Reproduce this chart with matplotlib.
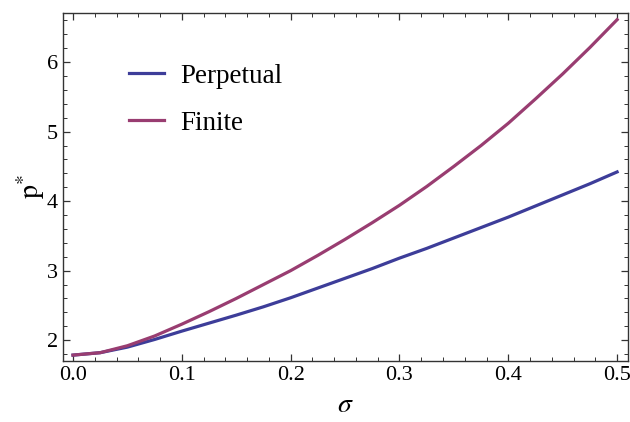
import numpy as np
import matplotlib.pyplot as plt
from matplotlib.ticker import MultipleLocator

plt.rcParams['font.family'] = ['Liberation Serif', 'DejaVu Serif']
plt.rcParams['mathtext.fontset'] = 'stix'

# values
sigma = [0.0, 0.025, 0.05, 0.075, 0.1, 0.125, 0.15, 0.175, 0.2, 0.225, 0.25,
         0.275, 0.3, 0.325, 0.35, 0.375, 0.4, 0.425, 0.45, 0.475, 0.5]
perpetual = [1.785, 1.82, 1.90, 2.01, 2.13, 2.245, 2.36, 2.48, 2.61, 2.75, 2.89,
             3.03, 3.18, 3.32, 3.47, 3.62, 3.77, 3.93, 4.09, 4.25, 4.42]
finite = [1.785, 1.82, 1.92, 2.06, 2.23, 2.41, 2.60, 2.80, 3.00, 3.22, 3.45,
          3.69, 3.94, 4.21, 4.50, 4.80, 5.12, 5.47, 5.83, 6.21, 6.61]

fig = plt.figure(figsize=(6.30, 4.22), dpi=100)
ax = fig.add_axes([0.1, 0.1445, 0.8968, 0.8245])

ax.plot(sigma, perpetual, color='#3d3d99', lw=2.3, label='Perpetual')
ax.plot(sigma, finite, color='#993d71', lw=2.3, label='Finite')

ax.set_xlim(-0.0092, 0.51)
ax.set_ylim(1.70, 6.705)

ax.xaxis.set_major_locator(MultipleLocator(0.1))
ax.xaxis.set_minor_locator(MultipleLocator(0.02))
ax.yaxis.set_major_locator(MultipleLocator(1))
ax.yaxis.set_minor_locator(MultipleLocator(0.2))
ax.xaxis.set_major_formatter(plt.FormatStrFormatter('%.1f'))
ax.tick_params(which='both', direction='in', top=True, right=True,
               labelsize=16, color='#333333')
ax.tick_params(which='major', length=5, width=0.9)
ax.tick_params(which='minor', length=3, width=0.7)
for s in ax.spines.values():
    s.set_color('#333333')
    s.set_linewidth(1.0)

ax.set_xlabel(r'$\sigma$', fontsize=20, labelpad=6)
ax.set_ylabel(r'$\mathrm{p}^{*}$', fontsize=20, labelpad=0)

ax.legend(loc='upper left', bbox_to_anchor=(0.073, 0.925), frameon=False,
          fontsize=19.5, handlelength=1.3, handletextpad=0.6, labelspacing=0.82)

fig.savefig('out.png', dpi=100)
